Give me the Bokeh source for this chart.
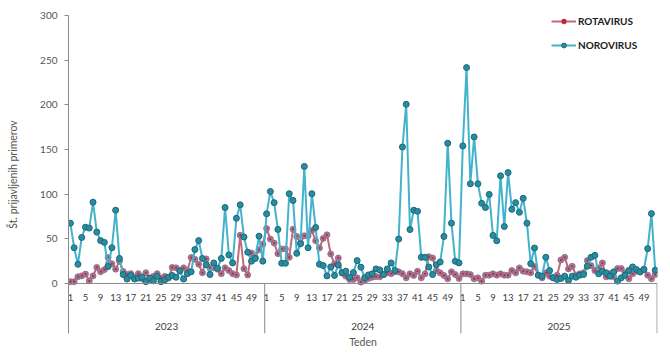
from bokeh.plotting import figure
from bokeh.models import Range1d, FixedTicker, Legend, LegendItem, Span
from bokeh.core.properties import value
from bokeh.embed import file_html
from bokeh.resources import INLINE

# ---------------- data ----------------
years = ["2023", "2024", "2025"]
weeks_per_year = 52
week_tick_labels = ["1", "5", "9", "13", "17", "21", "25", "29", "33", "37", "41", "45", "49"]

rota_2023 = [2, 2, 7.5, 8.5, 10.5, 3, 8.5, 18, 13, 15.5, 29, 22, 16, 25, 13.5, 10, 11, 7, 11, 5.5,
             12, 4.5, 8, 11, 6, 8, 6, 18, 17.5, 14.5, 17.5, 14.5, 29, 27, 21.5, 12, 27.5, 17.5, 17.5, 16,
             11, 17.5, 14.5, 11, 9.5, 54, 16.5, 9.5, 34, 29, 38, 44]
rota_2024 = [61.5, 49.7, 45.2, 33.4, 38.6, 38.6, 29.3, 60.8, 52.7, 45.2, 53.4, 53.4, 59.3, 47.8, 39.7, 50.4,
             54.5, 33, 21.9, 28.5, 11.9, 8.2, 4.5, 4.5, 6.3, 1.5, 3.3, 5.6, 7, 7.8, 7.4, 10, 11.9, 11, 13, 13,
             11, 6.3, 10.8, 9, 13.7, 6.3, 10.8, 30, 28.5, 14.5, 11.9, 9, 5.2, 13, 10, 5.6]
rota_2025 = [10.8, 10.8, 10, 5.2, 6.3, 2.6, 9.3, 9.3, 10.8, 9.3, 10.8, 9.3, 9.3, 14.5, 11.9, 17.4, 13.7, 13,
             11.9, 18.9, 9.3, 6.3, 11.9, 8.2, 6.3, 9.3, 26.3, 29.3, 16.3, 19.3, 9.3, 10.8, 11.9, 25.6, 20,
             14.5, 17.4, 23, 7.4, 10.8, 7.4, 16.7, 16.7, 11.9, 5.2, 10.8, 13.7, 13, 16, 9.3, 5.2, 10]

noro_2023 = [67.5, 40, 21.5, 51.5, 63, 62, 91, 57.5, 48, 46, 19, 40, 82, 28, 10, 5, 9, 5, 6, 7,
             2, 6, 3, 8, 2, 4, 7, 9, 7, 14, 5, 11, 13, 38, 48, 28, 21, 10, 23, 17,
             28, 85, 32, 23, 73, 88, 52, 35, 25, 28, 53, 25]
noro_2024 = [78, 103, 90.5, 60.5, 22.6, 22.6, 100.5, 93, 33.7, 44.5, 131, 40, 100.5, 62.7, 21.5, 20, 8.5,
             18.5, 9, 20.8, 11.9, 13.7, 7, 12.2, 25.6, 18.2, 6.3, 9.6, 10.8, 16.3, 15.2, 10, 16.3, 23, 14.5,
             49.7, 152.8, 200.6, 60.4, 82, 80.8, 29.3, 29.3, 18.5, 10, 21, 24, 52.7, 157, 67.5, 24.8, 23]
noro_2025 = [154, 241.7, 111.6, 164, 111.6, 89.7, 85, 99.7, 53.8, 47.8, 120.5, 63.8, 124.2, 83, 90.5, 79.7,
             95.3, 67.5, 22.2, 39.7, 9.3, 8.2, 29.3, 14.5, 6.3, 4.5, 5.6, 8.2, 3.3, 8.2, 7, 9.3, 10, 19.3,
             29.3, 31.5, 10.8, 13.7, 11.9, 8.2, 13, 2.6, 6.3, 9.3, 14.5, 18.5, 15.6, 13, 15.6, 39, 78.2, 14.8]

y_ticks = [0, 50, 100, 150, 200, 250, 300]

# ---------------- derived ----------------
rota = rota_2023 + rota_2024 + rota_2025
noro = noro_2023 + noro_2024 + noro_2025
n = len(noro)
x = list(range(1, n + 1))

FONT = "Lato"
GREY = "#8a8a8a"
TXT = "#404040"

Y_BOTTOM = -56          # extends the frame below zero for the week / year band
WEEK_Y = -16
YEAR_Y = -48

p = figure(width=670, height=356, output_backend="svg", toolbar_location=None,
           x_range=Range1d(0.5, n + 0.6), y_range=Range1d(Y_BOTTOM, 300),
           min_border_left=68, min_border_right=13, min_border_top=15, min_border_bottom=23)
p.grid.visible = False
p.outline_line_color = None
p.background_fill_color = "white"

# y axis
ya = p.yaxis[0]
ya.ticker = FixedTicker(ticks=y_ticks)
ya.axis_line_color = GREY
ya.major_tick_line_color = GREY
ya.major_tick_out = 4
ya.major_tick_in = 0
ya.minor_tick_line_color = None
ya.major_label_standoff = 7
ya.major_label_text_font = FONT
ya.major_label_text_font_size = "10px"
ya.major_label_text_color = "#555555"
ya.axis_label = "Št. prijavljenih primerov"
ya.axis_label_text_font = FONT
ya.axis_label_text_font_size = "10.5px"
ya.axis_label_text_font_style = "normal"
ya.axis_label_text_color = "#555555"
ya.axis_label_standoff = 18

# x axis: only the title "Teden"
xa = p.xaxis[0]
xa.ticker = FixedTicker(ticks=[])
xa.axis_line_color = None
xa.major_tick_line_color = None
xa.minor_tick_line_color = None
xa.major_tick_out = 0
xa.major_tick_in = 0
xa.major_label_standoff = 0
xa.axis_label = "Teden"
xa.axis_label_text_font = FONT
xa.axis_label_text_font_size = "10.5px"
xa.axis_label_text_font_style = "normal"
xa.axis_label_text_color = "#555555"
xa.axis_label_standoff = 2

# baseline at zero
p.add_layout(Span(location=0, dimension="width", line_color=GREY, line_width=1))

# year separators below the baseline
sep_x = [weeks_per_year * (k + 1) + 0.5 for k in range(len(years))]
p.segment(x0=sep_x, y0=[0] * len(sep_x), x1=sep_x, y1=[Y_BOTTOM] * len(sep_x),
          line_color=GREY, line_width=1)

# week tick labels
wx, wt = [], []
for k in range(len(years)):
    for lab in week_tick_labels:
        wx.append(k * weeks_per_year + int(lab))
        wt.append(lab)
p.text(x=wx, y=[WEEK_Y] * len(wx), text=wt, text_font=value(FONT), text_font_size=value("9.5px"),
       text_color=TXT, text_align="center", text_baseline="middle")

# year labels
yx = [k * weeks_per_year + (weeks_per_year + 1) / 2 for k in range(len(years))]
p.text(x=yx, y=[YEAR_Y] * len(yx), text=years, text_font=value(FONT), text_font_size=value("10px"),
       text_color=TXT, text_align="center", text_baseline="middle")

# series
r_line = p.line(x, rota, line_color="#BF6B7A", line_width=2)
r_mark = p.scatter(x, rota, marker="circle", size=6, fill_color="#A07898", line_color="#8E6A88",
                   line_width=0.8)
r_dot = p.scatter(x, rota, marker="circle", size=2.2, fill_color="#D0202E", line_color=None)

n_line = p.line(x, noro, line_color="#43B3CC", line_width=2)
n_mark = p.scatter(x, noro, marker="circle", size=6, fill_color="#2A8CA0", line_color="#1A6878",
                   line_width=1)

legend = Legend(items=[LegendItem(label="ROTAVIRUS", renderers=[r_line, r_mark, r_dot]),
                       LegendItem(label="NOROVIRUS", renderers=[n_line, n_mark])],
                location=(483, 282), orientation="vertical",
                glyph_width=25, glyph_height=12, label_height=12, spacing=12,
                padding=0, margin=0, border_line_color=None, background_fill_alpha=0,
                label_text_font=FONT, label_text_font_size="10px", label_text_font_style="bold",
                label_text_color="#1a1a1a", label_standoff=2)
p.add_layout(legend)

open("out.html", "w").write(file_html(p, INLINE))
